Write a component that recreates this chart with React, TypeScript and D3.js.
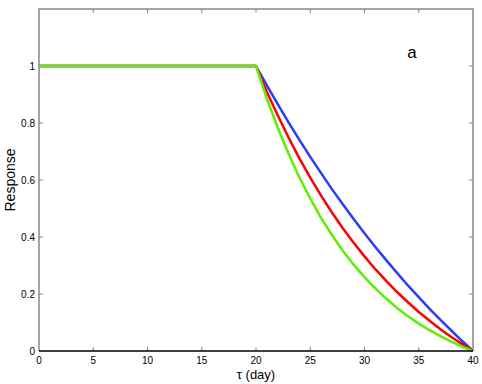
import React, { useEffect, useRef } from 'react'
import * as d3 from 'd3'

// days sampled along tau; flat part then decay from 20 to 40
const days = [0, 20, 21, 22, 23, 24, 25, 26, 27, 28, 29, 30, 31, 32, 33, 34, 35, 36, 37, 38, 39, 40]

const blueVals = [1, 1, 0.932, 0.866, 0.802, 0.741, 0.681, 0.624, 0.568, 0.515, 0.463, 0.413, 0.365, 0.319, 0.274, 0.230, 0.189, 0.148, 0.109, 0.072, 0.035, 0]
const redVals = [1, 1, 0.910, 0.827, 0.749, 0.676, 0.608, 0.545, 0.486, 0.431, 0.380, 0.332, 0.287, 0.246, 0.207, 0.171, 0.137, 0.106, 0.076, 0.049, 0.024, 0]
const greenVals = [1, 1, 0.886, 0.784, 0.692, 0.609, 0.535, 0.467, 0.407, 0.352, 0.303, 0.259, 0.220, 0.184, 0.151, 0.122, 0.096, 0.073, 0.052, 0.033, 0.015, 0]

const xTicks = [0, 5, 10, 15, 20, 25, 30, 35, 40]
const yTicks = [0, 0.2, 0.4, 0.6, 0.8, 1]

const series = [
  { name: 'blue', color: '#2a3cff', values: blueVals },
  { name: 'red', color: '#ff0000', values: redVals },
  { name: 'green', color: '#5cf000', values: greenVals },
]

export default function App() {
  const svgRef = useRef<SVGSVGElement>(null)

  useEffect(() => {
    const width = 482, height = 384
    const m = { top: 9, right: 9, bottom: 33, left: 39 }
    const svg = d3.select(svgRef.current)
    svg.selectAll('*').remove()

    const x = d3.scaleLinear().domain([0, 40]).range([m.left, width - m.right])
    const y = d3.scaleLinear().domain([0, 1.2]).range([height - m.bottom, m.top])
    const font = 'Liberation Sans, Arial, Helvetica, sans-serif'

    svg.append('rect').attr('width', width).attr('height', height).attr('fill', '#fff')

    const tickLen = 4
    const tg = svg.append('g').attr('stroke', '#888').attr('stroke-width', 1)
    xTicks.slice(1, -1).forEach(t => {
      tg.append('line').attr('x1', x(t)).attr('x2', x(t)).attr('y1', y(0)).attr('y2', y(0) - tickLen)
      tg.append('line').attr('x1', x(t)).attr('x2', x(t)).attr('y1', y(1.2)).attr('y2', y(1.2) + tickLen)
    })
    yTicks.slice(1).forEach(t => {
      tg.append('line').attr('x1', x(0)).attr('x2', x(0) + tickLen).attr('y1', y(t)).attr('y2', y(t))
      tg.append('line').attr('x1', x(40)).attr('x2', x(40) - tickLen).attr('y1', y(t)).attr('y2', y(t))
    })

    const line = d3.line<number>()
      .x((_, i) => x(days[i]))
      .y(d => y(d))

    svg.append('g').selectAll('path')
      .data(series)
      .join('path')
      .attr('d', d => line(d.values))
      .attr('fill', 'none')
      .attr('stroke', d => d.color)
      .attr('stroke-width', 2.5)
      .attr('stroke-linejoin', 'round')

    // frame
    svg.append('path')
      .attr('d', `M${x(0)},${y(0)}V${y(1.2)}H${x(40)}V${y(0)}`)
      .attr('fill', 'none').attr('stroke', '#888').attr('stroke-width', 1.5)
    svg.append('line')
      .attr('x1', x(0)).attr('x2', x(40)).attr('y1', y(0)).attr('y2', y(0))
      .attr('stroke', '#000').attr('stroke-width', 1.5)

    svg.append('g').selectAll('text')
      .data(xTicks)
      .join('text')
      .attr('x', d => x(d))
      .attr('y', y(0) + 13)
      .attr('text-anchor', 'middle')
      .attr('font-family', font).attr('font-size', 10)
      .text(d => String(d))

    svg.append('g').selectAll('text')
      .data(yTicks)
      .join('text')
      .attr('x', x(0) - 4)
      .attr('y', d => y(d) + 3.5)
      .attr('text-anchor', 'end')
      .attr('font-family', font).attr('font-size', 10)
      .text(d => String(d))

    svg.append('text')
      .attr('x', (x(0) + x(40)) / 2)
      .attr('y', 379)
      .attr('text-anchor', 'middle')
      .attr('font-family', font).attr('font-size', 13)
      .text('τ (day)')

    svg.append('text')
      .attr('transform', `translate(15,${(y(0) + y(1.2)) / 2}) rotate(-90)`)
      .attr('text-anchor', 'middle')
      .attr('font-family', font).attr('font-size', 14)
      .text('Response')

    svg.append('text')
      .attr('x', 412)
      .attr('y', 58)
      .attr('text-anchor', 'middle')
      .attr('font-family', font).attr('font-size', 17)
      .text('a')
  }, [])

  return (
    <svg ref={svgRef} width={482} height={384}
      style={{ position: 'absolute', left: 0, top: 0, display: 'block' }} />
  )
}
